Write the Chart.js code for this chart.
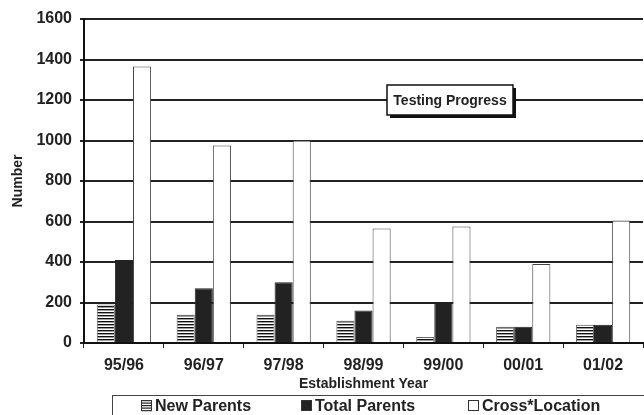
<!DOCTYPE html>
<html>
<head>
<meta charset="utf-8">
<script src="https://cdn.jsdelivr.net/npm/chart.js@4/dist/chart.umd.min.js"></script>
<style>
html,body{margin:0;padding:0;background:#fff;}
canvas{display:block;}
</style>
</head>
<body>
<canvas id="c" width="644" height="415"></canvas>
<script>
const categories = ["95/96","96/97","97/98","98/99","99/00","00/01","01/02"];
const newParents = [190,140,140,110,30,80,90];
const totalParents = [410,270,300,160,200,80,90];
const crossLocation = [1365,975,1000,565,575,390,605];
const seriesNames = ["New Parents","Total Parents","Cross*Location"];
const yTicks = [0,200,400,600,800,1000,1200,1400,1600];

const FONT = "'Liberation Sans', Arial, sans-serif";

function hatchPattern(){
  const c = document.createElement('canvas');
  c.width = 6; c.height = 3;
  const g = c.getContext('2d');
  g.fillStyle = '#fff'; g.fillRect(0,0,6,3);
  g.fillStyle = '#111'; g.fillRect(0,0,6,1.4);
  return g.createPattern(c,'repeat');
}
const hatch = hatchPattern();

const overlay = {
  id:'overlay',
  afterDraw(chart){
    const ctx = chart.ctx;
    ctx.save();
    const bx = 387, by = 85, bw = 126, bh = 30;
    ctx.fillStyle = '#111';
    ctx.fillRect(bx+3, by+3, bw, bh);
    ctx.fillStyle = '#fff';
    ctx.fillRect(bx, by, bw, bh);
    ctx.strokeStyle = '#111'; ctx.lineWidth = 1.5;
    ctx.strokeRect(bx, by, bw, bh);
    ctx.fillStyle = '#222';
    ctx.font = 'bold 14px ' + FONT;
    ctx.textAlign = 'center'; ctx.textBaseline = 'middle';
    ctx.fillText('Testing Progress', bx + bw/2, by + bh/2 + 1);
    ctx.strokeStyle = '#444'; ctx.lineWidth = 1;
    ctx.strokeRect(112.5, 395.5, 540, 30);
    ctx.font = 'bold 16px ' + FONT;
    ctx.textAlign = 'left'; ctx.textBaseline = 'middle';
    const items = [
      {x:141, fill:'hatch'},
      {x:301, fill:'#222'},
      {x:468, fill:'#fff'}
    ];
    items.forEach((it,i)=>{
      const sy = 400, s = 11;
      if (it.fill === 'hatch') {
        ctx.fillStyle = '#fff'; ctx.fillRect(it.x, sy, s, s);
        ctx.fillStyle = '#222';
        for (let k=0;k<s;k+=2.5) ctx.fillRect(it.x, sy+k, s, 1.2);
      } else {
        ctx.fillStyle = it.fill; ctx.fillRect(it.x, sy, s, s);
      }
      ctx.strokeStyle = '#333'; ctx.lineWidth = 1;
      ctx.strokeRect(it.x+0.5, sy+0.5, s-1, s-1);
      ctx.fillStyle = '#222';
      ctx.fillText(seriesNames[i], it.x + s + 3, sy + s/2 + 1);
    });
    ctx.restore();
  }
};

new Chart(document.getElementById('c'), {
  type:'bar',
  data:{
    labels: categories,
    datasets:[
      {label:seriesNames[0], data:newParents, backgroundColor:hatch, borderColor:'#666', borderWidth:1},
      {label:seriesNames[1], data:totalParents, backgroundColor:'#222', borderColor:'#222', borderWidth:1},
      {label:seriesNames[2], data:crossLocation, backgroundColor:'#fff', borderColor:'#444', borderWidth:1}
    ]
  },
  options:{
    responsive:false,
    animation:false,
    devicePixelRatio:1,
    layout:{padding:{top:19, right:1, bottom:22, left:0}},
    plugins:{legend:{display:false}, tooltip:{enabled:false}},
    datasets:{bar:{categoryPercentage:0.68, barPercentage:1}},
    scales:{
      x:{
        afterFit(s){ s.height = 50; },
        grid:{display:true, drawOnChartArea:false, drawTicks:true, tickLength:5, color:'#222', lineWidth:1, offset:true},
        border:{display:true, color:'#111', width:2},
        ticks:{font:{family:FONT, size:16, weight:'bold'}, color:'#222', padding:8},
        title:{display:true, text:'Establishment Year', font:{family:FONT, size:14, weight:'bold'}, color:'#222', padding:{top:0,bottom:0}}
      },
      y:{
        min:0, max:1600,
        afterFit(s){ s.width = 84; },
        afterBuildTicks(s){ s.ticks = yTicks.map(v=>({value:v})); },
        grid:{color:'#222', lineWidth:2, tickLength:4, drawTicks:true},
        border:{display:true, color:'#111', width:2},
        ticks:{font:{family:FONT, size:16, weight:'bold'}, color:'#222', padding:8, callback:(v)=>String(v)},
        title:{display:true, text:'Number', font:{family:FONT, size:14, weight:'bold'}, color:'#222', padding:{top:10,bottom:0}}
      }
    }
  },
  plugins:[overlay]
});
</script>
</body>
</html>
